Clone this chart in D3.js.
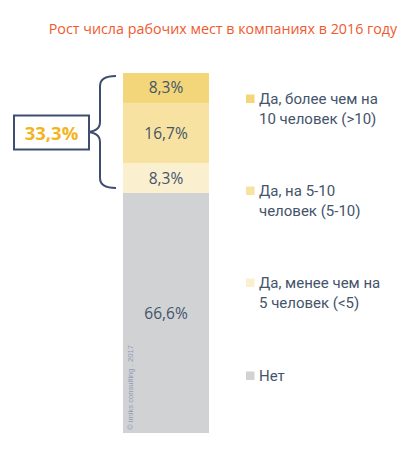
<!DOCTYPE html>
<html><head><meta charset="utf-8">
<script src="https://cdn.jsdelivr.net/npm/d3@7"></script>
<style>body{margin:0;background:#fff}svg{display:block}</style>
</head><body>
<script>
const title = "Рост числа рабочих мест в компаниях в 2016 году";
const categories = ["Нет", "Да, менее чем на 5 человек (<5)", "Да, на 5-10 человек (5-10)", "Да, более чем на 10 человек (>10)"];
const values = [66.6, 8.3, 16.7, 8.3];
const valueLabels = ["66,6%", "8,3%", "16,7%", "8,3%"];
const legendLines = [["Нет"], ["Да, менее чем на", "5 человек (<5)"], ["Да, на 5-10", "человек (5-10)"], ["Да, более чем на", "10 человек (>10)"]];
const colors = ["#D1D2D4", "#FAF0CF", "#F7E2A1", "#F3D67A"];
const braceLabel = "33,3%";
const watermark = "© imiks consulting . 2017";

const W = 413, H = 454;
const font = "'Open Sans', 'Noto Sans', sans-serif";
const legendFont = "Roboto, 'Open Sans', sans-serif";
const svg = d3.select("body").append("svg").attr("width", W).attr("height", H);

// title
const t = svg.append("text").attr("x", 223).attr("y", 34).attr("text-anchor", "middle")
  .attr("font-family", font).attr("font-size", 15).attr("fill", "#EF5A2F").text(title);
const tw = t.node().getComputedTextLength();
t.attr("font-size", 15 * 349 / tw);

// stacking
let cum = 0;
const stacked = values.map((v, i) => { const s = {i, y0: cum, y1: cum + v, v}; cum += v; return s; });
const total = cum;
const y = d3.scaleLinear().domain([0, total]).range([433, 73]);
const x = d3.scaleBand().domain(["all"]).range([123, 209]).padding(0);

svg.append("g").selectAll("rect").data(stacked).join("rect")
  .attr("x", x("all")).attr("width", x.bandwidth())
  .attr("y", d => y(d.y1)).attr("height", d => y(d.y0) - y(d.y1))
  .attr("fill", d => colors[d.i]);

const labelSize = 15.5;
svg.append("g").selectAll("text").data(stacked).join("text")
  .attr("x", x("all") + x.bandwidth() / 2)
  .attr("y", d => (y(d.y0) + y(d.y1)) / 2 + 5.5)
  .attr("text-anchor", "middle").attr("font-family", font).attr("font-size", labelSize)
  .attr("fill", "#44546A").text(d => valueLabels[d.i]);

// watermark
const wm = svg.append("text").attr("transform", `translate(${x("all") + 10},430) rotate(-90)`)
  .attr("font-family", "'Liberation Sans Narrow', 'Liberation Sans', sans-serif").attr("font-size", 7).attr("fill", "#8E9AB5")
  .text(watermark);
wm.attr("font-size", 7 * 85 / wm.node().getComputedTextLength());

// legend
const legendY = [376, 283, 191, 99];
let legendSize = 15.5;
const probe = svg.append("text").attr("font-family", legendFont).attr("font-size", 15.5).text(legendLines[3][0]);
legendSize = Math.min(16.5, 15.5 * 119 / probe.node().getComputedTextLength());
probe.remove();
const lg = svg.append("g").selectAll("g").data(categories).join("g")
  .attr("transform", (d, i) => `translate(246,${legendY[i]})`);
lg.append("rect").attr("x", 0).attr("y", -4.5).attr("width", 8.5).attr("height", 8.5)
  .attr("fill", (d, i) => colors[i]);
lg.each(function(d, i) {
  const txt = d3.select(this).append("text").attr("x", 13).attr("y", 5)
    .attr("font-family", legendFont).attr("font-size", legendSize).attr("fill", "#44546A");
  legendLines[i].forEach((line, k) => {
    txt.append("tspan").attr("x", 13).attr("dy", k === 0 ? 0 : 19.5).text(line);
  });
});

// brace around the "Да" segments
const yTop = y(total) + 3, yBot = y(values[0]) - 5, yMid = (yTop + yBot) / 2;
const bx = 100, tipX = 85, endX = 116, r = 10;
const brace = d3.path();
brace.moveTo(endX, yTop);
brace.quadraticCurveTo(bx, yTop, bx, yTop + r);
brace.lineTo(bx, yMid - r);
brace.quadraticCurveTo(bx, yMid, tipX, yMid);
brace.quadraticCurveTo(bx, yMid, bx, yMid + r);
brace.lineTo(bx, yBot - r);
brace.quadraticCurveTo(bx, yBot, endX, yBot);
svg.append("path").attr("d", brace.toString()).attr("fill", "none")
  .attr("stroke", "#3F4D70").attr("stroke-width", 2);

svg.append("rect").attr("x", 14).attr("y", 115.5).attr("width", 75).attr("height", 34)
  .attr("fill", "#fff").attr("stroke", "#3F4D70").attr("stroke-width", 2);
svg.append("text").attr("x", 51.5).attr("y", 139.5).attr("text-anchor", "middle")
  .attr("font-family", font).attr("font-size", 18.5).attr("font-weight", "bold")
  .attr("fill", "#F2B51E").text(braceLabel);
</script>
</body></html>
